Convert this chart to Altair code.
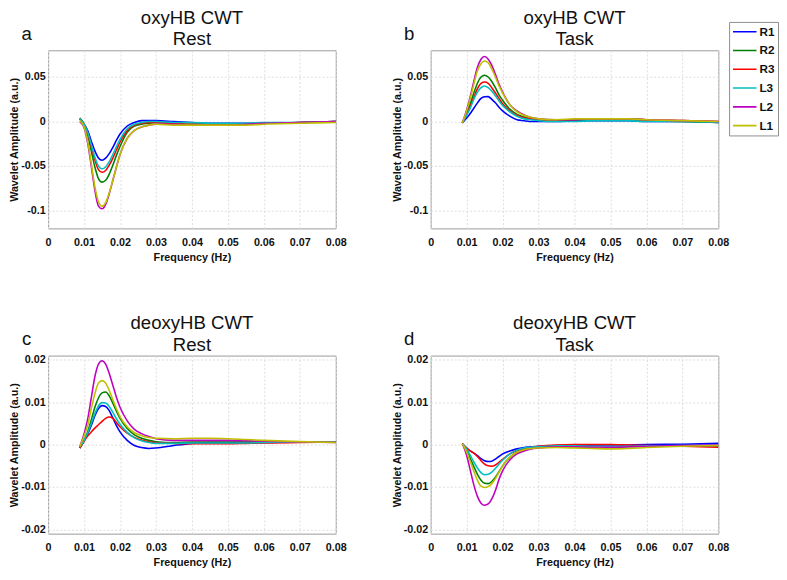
import altair as alt
import pandas as pd

# ---------------- data ----------------
FREQ = [0.0088, 0.010, 0.011, 0.012, 0.013, 0.014, 0.015, 0.016, 0.017, 0.018,
        0.019, 0.020, 0.022, 0.024, 0.026, 0.028, 0.030, 0.035, 0.040, 0.045,
        0.050, 0.055, 0.060, 0.070, 0.080]

SERIES = ["R1", "R2", "R3", "L3", "L2", "L1"]
COLORS = ["#0000FF", "#008000", "#FF0000", "#00BFBF", "#BF00BF", "#BFBF00"]

PANEL_LETTERS = ["a", "b", "c", "d"]
PANEL_TITLES = [["oxyHB CWT", "Rest"], ["oxyHB CWT", "Task"],
                ["deoxyHB CWT", "Rest"], ["deoxyHB CWT", "Task"]]

X_TICKS = [0, 0.01, 0.02, 0.03, 0.04, 0.05, 0.06, 0.07, 0.08]
OXY_TICKS = [-0.1, -0.05, 0, 0.05]
DEOXY_TICKS = [-0.02, -0.01, 0, 0.01, 0.02]

# Panel a: oxyHB Rest
A_R1 = [0.003, -0.003, -0.010, -0.022, -0.033, -0.041, -0.0435, -0.041, -0.036, -0.029,
        -0.021, -0.014, -0.005, -0.001, 0.001, 0.001, 0.001, 0.000, -0.001, -0.002,
        -0.002, -0.002, -0.002, -0.001, 0.000]
A_R2 = [0.004, -0.003, -0.015, -0.033, -0.051, -0.064, -0.068, -0.066, -0.059, -0.049,
        -0.038, -0.028, -0.012, -0.005, -0.003, -0.002, -0.001, -0.002, -0.003, -0.003,
        -0.003, -0.003, -0.002, -0.001, 0.000]
A_R3 = [0.003, -0.003, -0.013, -0.028, -0.043, -0.054, -0.057, -0.055, -0.049, -0.041,
        -0.032, -0.023, -0.010, -0.004, -0.002, -0.001, -0.001, -0.002, -0.003, -0.003,
        -0.003, -0.003, -0.002, -0.001, 0.000]
A_L3 = [0.003, -0.003, -0.012, -0.026, -0.040, -0.050, -0.053, -0.051, -0.045, -0.037,
        -0.028, -0.020, -0.008, -0.003, -0.001, 0.000, 0.000, -0.001, -0.001, -0.002,
        -0.002, -0.002, -0.001, -0.001, 0.000]
A_L2 = [0.000, -0.007, -0.024, -0.050, -0.077, -0.095, -0.098, -0.093, -0.081, -0.066,
        -0.051, -0.037, -0.019, -0.010, -0.006, -0.004, -0.003, -0.003, -0.004, -0.004,
        -0.004, -0.003, -0.002, -0.001, 0.000]
A_L1 = [0.001, -0.006, -0.022, -0.047, -0.073, -0.090, -0.095, -0.091, -0.080, -0.066,
        -0.051, -0.037, -0.019, -0.010, -0.006, -0.004, -0.003, -0.004, -0.004, -0.004,
        -0.004, -0.004, -0.003, -0.002, -0.001]

# Panel b: oxyHB Task
B_R1 = [-0.0015, 0.004, 0.009, 0.015, 0.021, 0.026, 0.0278, 0.028, 0.025, 0.021,
        0.016, 0.012, 0.006, 0.002, 0.001, 0.000, 0.000, 0.000, 0.001, 0.001,
        0.001, 0.001, 0.000, 0.000, -0.001]
B_R2 = [-0.0015, 0.009, 0.020, 0.032, 0.043, 0.050, 0.052, 0.050, 0.045, 0.038,
        0.030, 0.024, 0.014, 0.008, 0.005, 0.003, 0.002, 0.001, 0.002, 0.002,
        0.002, 0.002, 0.001, 0.000, -0.001]
B_R3 = [-0.0015, 0.008, 0.017, 0.027, 0.037, 0.043, 0.0445, 0.043, 0.038, 0.032,
        0.026, 0.020, 0.012, 0.007, 0.004, 0.003, 0.002, 0.002, 0.002, 0.003,
        0.003, 0.003, 0.002, 0.001, 0.000]
B_L3 = [-0.0015, 0.007, 0.015, 0.025, 0.033, 0.038, 0.040, 0.038, 0.034, 0.029,
        0.023, 0.018, 0.011, 0.006, 0.003, 0.002, 0.001, 0.000, 0.000, 0.001,
        0.001, 0.001, 0.000, 0.000, -0.001]
B_L2 = [-0.0015, 0.013, 0.028, 0.045, 0.061, 0.070, 0.073, 0.070, 0.063, 0.053,
        0.042, 0.033, 0.019, 0.012, 0.0075, 0.0045, 0.003, 0.002, 0.002, 0.003,
        0.003, 0.003, 0.002, 0.001, 0.000]
B_L1 = [-0.0015, 0.012, 0.026, 0.042, 0.057, 0.065, 0.068, 0.066, 0.059, 0.050,
        0.040, 0.032, 0.019, 0.011, 0.007, 0.0045, 0.003, 0.002, 0.003, 0.003,
        0.003, 0.003, 0.002, 0.001, 0.000]

# Panel c: deoxyHB Rest
C_R1 = [-0.0008, 0.0008, 0.0025, 0.0045, 0.0068, 0.0085, 0.0092, 0.0090, 0.0080, 0.0063,
        0.0045, 0.0030, 0.0010, -0.0002, -0.0007, -0.0009, -0.0008, -0.0002, 0.0003, 0.0005,
        0.0005, 0.0005, 0.0005, 0.0006, 0.0006]
C_R2 = [-0.0008, 0.0010, 0.0030, 0.0058, 0.0088, 0.0110, 0.0122, 0.0124, 0.0115, 0.0098,
        0.0079, 0.0062, 0.0038, 0.0023, 0.0015, 0.0010, 0.0007, 0.0005, 0.0006, 0.0006,
        0.0006, 0.0006, 0.0006, 0.0006, 0.0007]
C_R3 = [-0.0008, 0.0008, 0.0020, 0.0030, 0.0039, 0.0047, 0.0055, 0.0062, 0.0065, 0.0062,
        0.0052, 0.0042, 0.0027, 0.0017, 0.0011, 0.0007, 0.0005, 0.0003, 0.0002, 0.0002,
        0.0002, 0.0003, 0.0004, 0.0005, 0.0006]
C_L3 = [-0.0006, 0.0010, 0.0028, 0.0050, 0.0073, 0.0091, 0.0099, 0.0098, 0.0090, 0.0076,
        0.0061, 0.0048, 0.0029, 0.0016, 0.0009, 0.0005, 0.0003, 0.0003, 0.0004, 0.0004,
        0.0004, 0.0004, 0.0005, 0.0006, 0.0006]
C_L2 = [-0.0005, 0.0025, 0.0060, 0.0110, 0.0160, 0.0190, 0.0198, 0.0190, 0.0168, 0.0140,
        0.0112, 0.0088, 0.0056, 0.0036, 0.0026, 0.0019, 0.0014, 0.0010, 0.0010, 0.0010,
        0.0010, 0.0009, 0.0008, 0.0006, 0.0005]
C_L1 = [-0.0005, 0.0020, 0.0045, 0.0085, 0.0120, 0.0145, 0.0151, 0.0145, 0.0128, 0.0106,
        0.0085, 0.0066, 0.0042, 0.0028, 0.0021, 0.0017, 0.0015, 0.0014, 0.0015, 0.0015,
        0.0014, 0.0012, 0.0010, 0.0007, 0.0005]

# Panel d: deoxyHB Task
D_R1 = [0.0002, -0.0008, -0.0015, -0.0020, -0.0026, -0.0033, -0.0038, -0.0040, -0.0039, -0.0034,
        -0.0028, -0.0022, -0.0015, -0.0010, -0.0007, -0.0005, -0.0004, -0.0002, -0.0002, -0.0003,
        -0.0002, -0.0001, 0.0000, 0.0001, 0.0003]
D_R2 = [0.0002, -0.0012, -0.0032, -0.0052, -0.0070, -0.0084, -0.0091, -0.0092, -0.0087, -0.0077,
        -0.0064, -0.0050, -0.0030, -0.0018, -0.0012, -0.0009, -0.0007, -0.0005, -0.0005, -0.0006,
        -0.0006, -0.0005, -0.0004, -0.0003, -0.0003]
D_R3 = [0.0002, -0.0008, -0.0015, -0.0020, -0.0028, -0.0038, -0.0046, -0.0050, -0.0051, -0.0048,
        -0.0042, -0.0035, -0.0022, -0.0014, -0.0009, -0.0006, -0.0004, -0.0001, 0.0000, 0.0000,
        0.0000, -0.0001, -0.0002, -0.0004, -0.0006]
D_L3 = [0.0002, -0.0010, -0.0025, -0.0041, -0.0055, -0.0066, -0.0071, -0.0070, -0.0065, -0.0056,
        -0.0046, -0.0037, -0.0022, -0.0013, -0.0008, -0.0006, -0.0005, -0.0003, -0.0003, -0.0004,
        -0.0004, -0.0004, -0.0003, -0.0002, -0.0002]
D_L2 = [0.0002, -0.0025, -0.0060, -0.0095, -0.0122, -0.0138, -0.0143, -0.0140, -0.0128, -0.0108,
        -0.0082, -0.0062, -0.0036, -0.0022, -0.0015, -0.0010, -0.0008, -0.0005, -0.0005, -0.0006,
        -0.0006, -0.0005, -0.0004, -0.0002, -0.0001]
D_L1 = [0.0002, -0.0017, -0.0040, -0.0063, -0.0084, -0.0098, -0.0101, -0.0099, -0.0092, -0.0080,
        -0.0065, -0.0050, -0.0030, -0.0018, -0.0012, -0.0009, -0.0008, -0.0007, -0.0008, -0.0009,
        -0.0010, -0.0009, -0.0007, -0.0004, -0.0002]

PANEL_DATA = [
    [A_R1, A_R2, A_R3, A_L3, A_L2, A_L1],
    [B_R1, B_R2, B_R3, B_L3, B_L2, B_L1],
    [C_R1, C_R2, C_R3, C_L3, C_L2, C_L1],
    [D_R1, D_R2, D_R3, D_L3, D_L2, D_L1],
]

FONT = "Liberation Sans"
PW, PH = 294, 182


def make_frame(cols):
    rows = []
    for name, vals in zip(SERIES, cols):
        for f, v in zip(FREQ, vals):
            rows.append({"freq": f, "amp": v, "ch": name})
    return pd.DataFrame(rows)


LABEL_EXPR = ("datum.value < 0 ? '-' + format(-datum.value, '.2~f') : "
              "format(datum.value, '.2~f')")


def panel(idx, ydomain, yticks):
    df = make_frame(PANEL_DATA[idx])
    lines = alt.Chart(df).mark_line(strokeWidth=1.6, interpolate="monotone").encode(
        x=alt.X("freq:Q",
                scale=alt.Scale(domain=[0, 0.08], nice=False, zero=False),
                axis=alt.Axis(values=X_TICKS, title="Frequency (Hz)",
                              labelExpr=LABEL_EXPR, labelPadding=8,
                              labelFlush=False, titlePadding=5)),
        y=alt.Y("amp:Q",
                scale=alt.Scale(domain=ydomain, nice=False, zero=False),
                axis=alt.Axis(values=yticks, title="Wavelet Amplitude (a.u.)",
                              labelExpr=LABEL_EXPR, labelPadding=3,
                              labelFlush=False, titlePadding=1)),
        color=alt.Color("ch:N",
                        scale=alt.Scale(domain=SERIES, range=COLORS),
                        sort=SERIES,
                        legend=alt.Legend(orient="none", legendX=696, legendY=-29,
                                          title=None, symbolType="stroke",
                                          symbolSize=576, symbolStrokeWidth=1.6,
                                          clipHeight=14,
                                          labelFont=FONT, labelFontWeight="bold",
                                          labelFontSize=12, labelColor="#111",
                                          labelOffset=2, rowPadding=5.2, padding=3,
                                          strokeColor="#8c8c8c", fillColor="white")),
    )
    letter = alt.Chart(pd.DataFrame({"t": [PANEL_LETTERS[idx]]})).mark_text(
        font=FONT, fontSize=19, align="center", baseline="middle", color="#111"
    ).encode(text="t:N", x=alt.value(-22), y=alt.value(-17))
    return alt.layer(lines, letter).properties(
        width=PW, height=PH,
        title=alt.TitleParams(text=PANEL_TITLES[idx], font=FONT, fontSize=19,
                              fontWeight="normal", lineHeight=22, offset=-25,
                              anchor="middle", color="#111"),
    )


pa = panel(0, [-0.12, 0.08], OXY_TICKS)
pb = panel(1, [-0.12, 0.08], OXY_TICKS)
pc = panel(2, [-0.021, 0.021], DEOXY_TICKS)
pd_ = panel(3, [-0.021, 0.021], DEOXY_TICKS)

chart = alt.vconcat(
    alt.hconcat(pa, pb, spacing=44),
    alt.hconcat(pc, pd_, spacing=44),
    spacing=51,
).properties(
    padding={"top": -6, "left": 0, "right": 0, "bottom": 0}
).configure_view(
    stroke="#9a9a9a", strokeWidth=1
).configure_axis(
    labelFont=FONT, labelFontWeight="bold", labelFontSize=11, labelColor="#111",
    titleFont=FONT, titleFontWeight="bold", titleFontSize=11, titleColor="#111",
    grid=True, gridColor="#dcdcdc", gridDash=[2, 2], gridWidth=1,
    ticks=False, domain=False,
)

chart.save("out.html", embed_options={"renderer": "svg", "actions": False})
